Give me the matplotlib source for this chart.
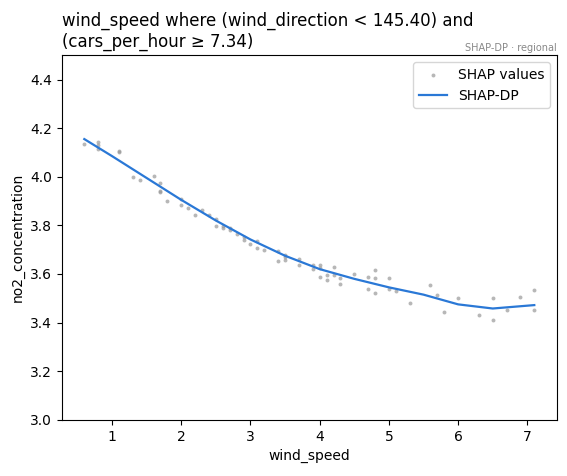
import matplotlib
matplotlib.use('Agg')
import matplotlib.pyplot as plt

# SHAP values (scatter)
shap_x = [0.6, 0.8, 0.8, 0.8, 1.1, 1.1, 1.3, 1.4, 1.6, 1.7, 1.7, 1.7, 1.8, 2.0, 2.0,
          2.1, 2.2, 2.3, 2.4, 2.5, 2.5, 2.6, 2.6, 2.7, 2.7, 2.8, 2.9, 2.9, 3.0, 3.1,
          3.1, 3.2, 3.4, 3.4, 3.5, 3.5, 3.5, 3.7, 3.7, 3.9, 3.9, 4.0, 4.0, 4.0, 4.1,
          4.1, 4.2, 4.2, 4.3, 4.3, 4.5, 4.7, 4.7, 4.8, 4.8, 4.8, 5.0, 5.0, 5.1, 5.3,
          5.6, 5.7, 5.8, 6.0, 6.3, 6.5, 6.5, 6.7, 6.9, 7.1, 7.1]
shap_y = [4.135, 4.143, 4.131, 4.115, 4.107, 4.103, 4.0, 3.988, 4.004, 3.975, 3.943, 3.939,
          3.902, 3.91, 3.885, 3.873, 3.844, 3.865, 3.844, 3.828, 3.799, 3.799, 3.789, 3.791,
          3.779, 3.766, 3.754, 3.738, 3.725, 3.734, 3.705, 3.697, 3.693, 3.652, 3.68, 3.668,
          3.656, 3.66, 3.635, 3.639, 3.619, 3.639, 3.623, 3.586, 3.594, 3.574, 3.627, 3.594,
          3.582, 3.557, 3.598, 3.586, 3.537, 3.615, 3.582, 3.52, 3.582, 3.537, 3.529, 3.48,
          3.553, 3.512, 3.443, 3.5, 3.43, 3.5, 3.41, 3.451, 3.504, 3.533, 3.451]

# SHAP-DP curve
dp_x = [0.6, 1.0, 1.5, 2.0, 2.5, 3.0, 3.5, 4.0, 4.5, 5.0, 5.5, 6.0, 6.5, 7.1]
dp_y = [4.155, 4.085, 3.995, 3.905, 3.82, 3.742, 3.675, 3.62, 3.58, 3.545, 3.515, 3.475,
        3.458, 3.472]

fig = plt.figure(figsize=(5.67, 4.76), dpi=100)
ax = fig.add_axes([0.109, 0.118, 0.873, 0.766])

ax.scatter(shap_x, shap_y, s=8, color='#999999', alpha=0.7, linewidths=0,
           label='SHAP values')
ax.plot(dp_x, dp_y, color='#2a78d6', linewidth=1.6, label='SHAP-DP')

ax.set_ylim(3.0, 4.5)
ax.set_xlabel('wind_speed')
ax.set_ylabel('no2_concentration')
ax.set_title('wind_speed where (wind_direction < 145.40) and\n(cars_per_hour ≥ 7.34)',
             loc='left', fontsize=12)
ax.text(1.0, 1.005, 'SHAP-DP · regional', transform=ax.transAxes, ha='right',
        va='bottom', fontsize=7, color='#888888')
ax.legend(loc='upper right')

plt.savefig('out.png', dpi=100)
